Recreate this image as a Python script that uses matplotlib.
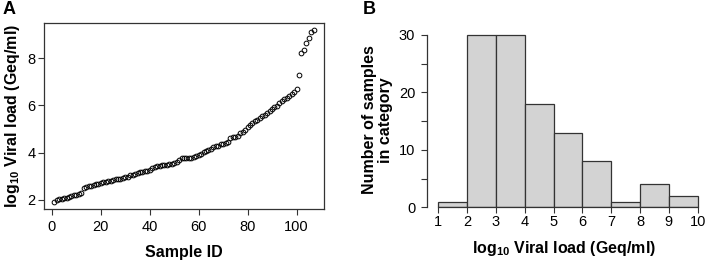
import matplotlib
matplotlib.use('Agg')
import matplotlib.pyplot as plt

plt.rcParams['font.family'] = ['Liberation Sans', 'DejaVu Sans']
plt.rcParams['mathtext.default'] = 'regular'

# Panel A: sorted log10 viral load per sample
sample_ids = list(range(1, 108))
viral_load = [
    1.90, 1.98, 2.03, 2.04, 2.06, 2.08, 2.12, 2.17, 2.20, 2.22,
    2.24, 2.27, 2.48, 2.53, 2.57, 2.60, 2.63, 2.66, 2.69, 2.72,
    2.74, 2.76, 2.78, 2.80, 2.84, 2.86, 2.87, 2.89, 2.92, 2.95,
    2.98, 3.04, 3.07, 3.10, 3.13, 3.16, 3.18, 3.20, 3.24, 3.28,
    3.33, 3.38, 3.42, 3.45, 3.47, 3.48, 3.49, 3.50, 3.53, 3.57,
    3.62, 3.70, 3.76, 3.77, 3.77, 3.78, 3.78, 3.82, 3.86, 3.90,
    3.95, 4.02, 4.08, 4.12, 4.17, 4.22, 4.26, 4.30, 4.36, 4.38,
    4.40, 4.45, 4.60, 4.66, 4.68, 4.70, 4.82, 4.88, 4.95, 5.08,
    5.18, 5.25, 5.33, 5.40, 5.47, 5.55, 5.60, 5.66, 5.75, 5.85,
    5.92, 5.98, 6.08, 6.20, 6.28, 6.33, 6.40, 6.48, 6.58, 6.70,
    7.30, 8.20, 8.35, 8.65, 8.85, 9.10, 9.20,
]

# Panel B: histogram of the same values
bin_edges = [1, 2, 3, 4, 5, 6, 7, 8, 9, 10]
bin_counts = [1, 30, 30, 18, 13, 8, 1, 4, 2]

W, H = 709, 263
fig = plt.figure(figsize=(W / 100, H / 100), dpi=100)

edge = '#333333'
tick_len = 4.3

# ---- panel A
axA = fig.add_axes([44 / W, 1 - 209 / H, 280 / W, 186 / H])
axA.plot(sample_ids, viral_load, 'o', mfc='none', mec='black', ms=3.4, mew=0.7)
axA.set_xlim(-3.24, 111.24)
axA.set_ylim(1.61, 9.49)
axA.set_xticks([0, 20, 40, 60, 80, 100])
axA.set_yticks([2, 4, 6, 8])
for s in axA.spines.values():
    s.set_color(edge)
    s.set_linewidth(0.9)
axA.tick_params(direction='out', length=tick_len, width=0.8, color=edge, labelsize=10.5)
axA.tick_params(axis='x', pad=3.7)
axA.tick_params(axis='y', pad=2)
axA.text(-0.114, 0.5, 'log$_{10}$ Viral load (Geq/ml)', transform=axA.transAxes,
         rotation=90, ha='center', va='center', fontsize=11.5, fontweight='bold')
axA.text(0.5, -0.232, 'Sample ID', transform=axA.transAxes,
         ha='center', va='center', fontsize=11.5, fontweight='bold')

# ---- panel B
x0, x1 = 0.6, 10.1
px_unit = 28.8
bl = 438.3 - (1 - x0) * px_unit
br = 697.7 + (x1 - 10) * px_unit
axB = fig.add_axes([bl / W, 1 - 207.3 / H, (br - bl) / W, (207.3 - 32.1) / H])
axB.bar(bin_edges[:-1], bin_counts, width=1, align='edge', color='#d3d3d3',
        edgecolor=edge, linewidth=0.9)
axB.set_xlim(x0, x1)
axB.set_ylim(0, 30.5)
axB.set_xticks(bin_edges)
axB.set_yticks([0, 10, 20, 30])
axB.set_yticks([5, 15, 25], minor=True)
axB.spines['top'].set_visible(False)
axB.spines['right'].set_visible(False)
axB.spines['left'].set_bounds(0, 30)
axB.spines['bottom'].set_bounds(1, 10)
for s in ('left', 'bottom'):
    axB.spines[s].set_color(edge)
    axB.spines[s].set_linewidth(0.9)
axB.tick_params(which='both', direction='out', length=tick_len, width=0.8, color=edge,
                labelsize=10.5)
axB.tick_params(axis='x', pad=1.2)
axB.tick_params(axis='y', pad=4)
axB.text(-0.18, 0.5, 'Number of samples\nin category', transform=axB.transAxes,
         rotation=90, ha='center', va='center', fontsize=11.5, fontweight='bold',
         linespacing=1.1)
axB.text(0.5, -0.235, 'log$_{10}$ Viral load (Geq/ml)', transform=axB.transAxes,
         ha='center', va='center', fontsize=11.5, fontweight='bold')

fig.text(3 / W, 1 - 10 / H, 'A', fontsize=13, fontweight='bold', va='center', ha='left')
fig.text(363 / W, 1 - 10 / H, 'B', fontsize=13, fontweight='bold', va='center', ha='left')

fig.savefig('out.png', dpi=100)
